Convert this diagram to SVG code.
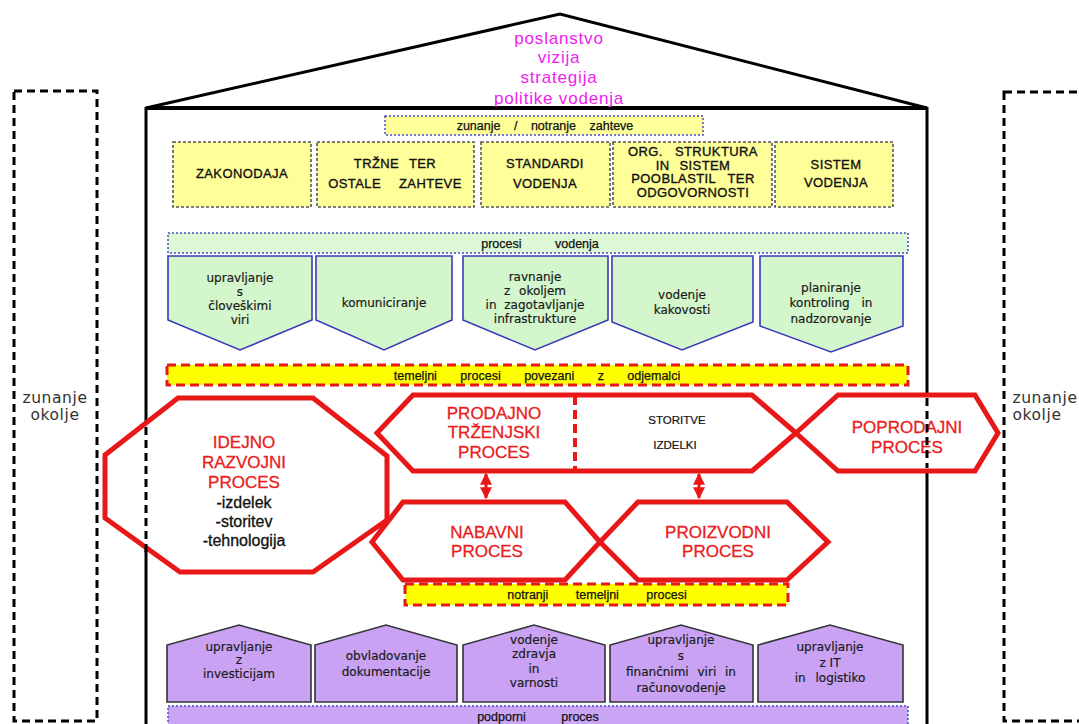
<svg xmlns="http://www.w3.org/2000/svg" width="1079" height="724" viewBox="0 0 1079 724">
  <style>
    .frame{fill:none;stroke:#000;stroke-width:3;stroke-linejoin:miter}
    .wall{fill:none;stroke:#000;stroke-width:3}
    .wallDash{fill:none;stroke:#000;stroke-width:3;stroke-dasharray:8 5}
    .ext{fill:none;stroke:#000;stroke-width:3;stroke-dasharray:8 5}
    .req{fill:#ffff99;stroke:#555;stroke-width:1.6;stroke-dasharray:3 2}
    .hdrY{fill:#ffff99;stroke:#4848c8;stroke-width:1.5;stroke-dasharray:2 2}
    .hdrG{fill:#dcf8d6;stroke:#4848c8;stroke-width:1.5;stroke-dasharray:2 2}
    .hdrP{fill:#cca6f6;stroke:#4848c8;stroke-width:1.5;stroke-dasharray:2 2}
    .mgmt{fill:#d4f6cc;stroke:#3a3ab8;stroke-width:1.6;stroke-linejoin:miter}
    .sup{fill:#c9a2f4;stroke:#333;stroke-width:1.6;stroke-linejoin:miter}
    .core{fill:#fff;stroke:#e81818;stroke-width:5;stroke-linejoin:miter}
    .band{fill:#ffff00;stroke:#e81818;stroke-width:3;stroke-dasharray:9 5}
    .split{fill:none;stroke:#e81818;stroke-width:4;stroke-dasharray:9 5}
    .link{fill:none;stroke:#e81818;stroke-width:3}
    text{font-family:"Liberation Sans",Arial,sans-serif;text-anchor:middle}
    .vis{font-size:17px;fill:#f020f0;letter-spacing:0.8px}
    .tr{font-size:13px;fill:#111;stroke:#111;stroke-width:0.35px;letter-spacing:0.4px}
    .tb{font-size:12.5px;fill:#111;stroke:#111;stroke-width:0.25px}
    .tg{font-family:"DejaVu Sans",Verdana,sans-serif;font-size:12px;fill:#1a1a1a;stroke:#1a1a1a;stroke-width:0.2px}
    .tred{font-size:17px;fill:#e82020;stroke:#e82020;stroke-width:0.3px}
    .tblk{font-size:16px;fill:#111;stroke:#111;stroke-width:0.3px}
    .tsm{font-size:11.5px;fill:#111;stroke:#111;stroke-width:0.2px}
    .tout{font-family:"DejaVu Sans",Verdana,sans-serif;font-size:15.5px;fill:#333;letter-spacing:0.6px}
  </style>
  <defs>
    <marker id="head" viewBox="0 0 10 10" refX="9" refY="5" markerWidth="4" markerHeight="4" orient="auto-start-reverse" markerUnits="strokeWidth">
      <path d="M0 0 L10 5 L0 10 Z" fill="#e81818"/>
    </marker>
  </defs>

  <!-- external environment columns -->
  <g id="ext-left">
    <rect class="ext" x="14" y="91" width="83" height="630"/>
    <text class="tout" x="55" y="403">zunanje</text>
    <text class="tout" x="55" y="420">okolje</text>
  </g>
  <g id="ext-right">
    <rect class="ext" x="1004" y="92" width="90" height="629"/>
    <text class="tout" x="1045" y="403">zunanje</text>
    <text class="tout" x="1037" y="420">okolje</text>
  </g>

  <!-- house frame -->
  <g id="house">
    <polyline class="frame" points="146,108 560,14 927,108"/>
    <line x1="146" y1="108" x2="927" y2="108" stroke="#000" stroke-width="4"/>
    <line class="wall" x1="146" y1="107" x2="146" y2="724"/>
    <line class="wall" x1="927" y1="107" x2="927" y2="724"/>
    <text class="vis" x="559" y="44">poslanstvo</text>
    <text class="vis" x="559" y="63">vizija</text>
    <text class="vis" x="559" y="83">strategija</text>
    <text class="vis" x="559" y="104">politike vodenja</text>
  </g>

  <!-- requirements -->
  <g id="requirements-header">
    <rect class="hdrY" x="385" y="116" width="318" height="19"/>
    <text class="tb" x="545" y="130" word-spacing="10">zunanje / notranje zahteve</text>
  </g>
  <g id="req-zakonodaja">
    <rect class="req" x="173" y="142" width="138" height="65"/>
    <text class="tr" x="242" y="178">ZAKONODAJA</text>
  </g>
  <g id="req-trzne">
    <rect class="req" x="317" y="142" width="157" height="65"/>
    <text class="tr" x="395" y="168" word-spacing="6">TRŽNE TER</text>
    <text class="tr" x="395" y="188" word-spacing="14">OSTALE ZAHTEVE</text>
  </g>
  <g id="req-standardi">
    <rect class="req" x="481" y="142" width="129" height="65"/>
    <text class="tr" x="545" y="168">STANDARDI</text>
    <text class="tr" x="545" y="188">VODENJA</text>
  </g>
  <g id="req-org">
    <rect class="req" x="613" y="142" width="159" height="65"/>
    <text class="tr" x="693" y="156" word-spacing="8">ORG. STRUKTURA</text>
    <text class="tr" x="693" y="169.5" word-spacing="6">IN SISTEM</text>
    <text class="tr" x="693" y="183" word-spacing="8">POOBLASTIL TER</text>
    <text class="tr" x="693" y="197">ODGOVORNOSTI</text>
  </g>
  <g id="req-sistem">
    <rect class="req" x="775" y="142" width="118" height="65"/>
    <text class="tr" x="836" y="169">SISTEM</text>
    <text class="tr" x="836" y="187">VODENJA</text>
  </g>

  <!-- management processes -->
  <g id="mgmt-header">
    <rect class="hdrG" x="168" y="233" width="740" height="20"/>
    <text class="tb" x="540" y="248" word-spacing="30">procesi vodenja</text>
  </g>
  <g id="mgmt-1">
    <path class="mgmt" d="M168 256 H312 V320 L240 350 L168 320 Z"/>
    <text class="tg" x="240" y="282">upravljanje</text>
    <text class="tg" x="240" y="296">s</text>
    <text class="tg" x="240" y="310">človeškimi</text>
    <text class="tg" x="240" y="324">viri</text>
  </g>
  <g id="mgmt-2">
    <path class="mgmt" d="M316 256 H452 V320 L384 350 L316 320 Z"/>
    <text class="tg" x="384" y="307">komuniciranje</text>
  </g>
  <g id="mgmt-3">
    <path class="mgmt" d="M463 256 H608 V320 L535 350 L463 320 Z"/>
    <text class="tg" x="535" y="281">ravnanje</text>
    <text class="tg" x="535" y="295" word-spacing="5">z okoljem</text>
    <text class="tg" x="535" y="309" word-spacing="4">in zagotavljanje</text>
    <text class="tg" x="535" y="323">infrastrukture</text>
  </g>
  <g id="mgmt-4">
    <path class="mgmt" d="M612 256 H753 V322 L682 350 L612 322 Z"/>
    <text class="tg" x="682" y="299">vodenje</text>
    <text class="tg" x="682" y="314">kakovosti</text>
  </g>
  <g id="mgmt-5">
    <path class="mgmt" d="M760 256 H903 V326 L831 352 L760 326 Z"/>
    <text class="tg" x="831" y="292">planiranje</text>
    <text class="tg" x="831" y="307" word-spacing="8">kontroling in</text>
    <text class="tg" x="831" y="323">nadzorovanje</text>
  </g>

  <!-- customer-facing core processes -->
  <g id="core-header">
    <rect class="band" x="167" y="365" width="741" height="20"/>
    <text class="tb" x="537" y="380" word-spacing="20">temeljni procesi povezani z odjemalci</text>
  </g>
  <g id="core-idejno">
    <polygon class="core" points="178,398 313,398 387,456 387,520 313,572 180,572 105,518 105,455"/>
    <text class="tred" x="244" y="448">IDEJNO</text>
    <text class="tred" x="244" y="468">RAZVOJNI</text>
    <text class="tred" x="244" y="488">PROCES</text>
    <text class="tblk" x="244" y="508">-izdelek</text>
    <text class="tblk" x="244" y="527">-storitev</text>
    <text class="tblk" x="244" y="546">-tehnologija</text>
  </g>
  <g id="core-prodajno">
    <polygon class="core" points="377,433 413,395 752,395 796,433 752,471 413,471"/>
    <line class="split" x1="575" y1="396" x2="575" y2="470"/>
    <text class="tred" x="494" y="419">PRODAJNO</text>
    <text class="tred" x="494" y="438">TRŽENJSKI</text>
    <text class="tred" x="494" y="458">PROCES</text>
    <text class="tsm" x="677" y="424">STORITVE</text>
    <text class="tsm" x="675" y="449">IZDELKI</text>
  </g>
  <g id="core-poprodajni">
    <polygon class="core" points="796,433 838,395 975,395 998,433 975,471 838,471"/>
    <text class="tred" x="907" y="433">POPRODAJNI</text>
    <text class="tred" x="907" y="453">PROCES</text>
  </g>
  <g id="core-nabavni">
    <polygon class="core" points="372,542 403,502 565,502 600,542 565,580 403,580"/>
    <text class="tred" x="487" y="538">NABAVNI</text>
    <text class="tred" x="487" y="557">PROCES</text>
  </g>
  <g id="core-proizvodni">
    <polygon class="core" points="600,542 638,502 787,502 828,542 787,580 638,580"/>
    <text class="tred" x="718" y="538">PROIZVODNI</text>
    <text class="tred" x="718" y="557">PROCES</text>
  </g>

  <!-- walls seen through the process shapes -->
  <g id="house-walls">
    <line class="wallDash" x1="146" y1="427" x2="146" y2="552"/>
    <line class="wallDash" x1="927" y1="398" x2="927" y2="468"/>
  </g>

  <!-- connectors -->
  <g id="connectors">
    <line class="link" x1="486" y1="474" x2="486" y2="498" marker-start="url(#head)" marker-end="url(#head)"/>
    <line class="link" x1="699" y1="474" x2="699" y2="498" marker-start="url(#head)" marker-end="url(#head)"/>
  </g>

  <g id="internal-header">
    <rect class="band" x="405" y="584" width="383" height="21"/>
    <text class="tb" x="597" y="599" word-spacing="24">notranji temeljni procesi</text>
  </g>

  <!-- support processes -->
  <g id="sup-1">
    <path class="sup" d="M167 702 V645 L239 625 L311 645 V702 Z"/>
    <text class="tg" x="239" y="651">upravljanje</text>
    <text class="tg" x="239" y="664">z</text>
    <text class="tg" x="239" y="678">investicijam</text>
  </g>
  <g id="sup-2">
    <path class="sup" d="M315 702 V645 L386 625 L457 645 V702 Z"/>
    <text class="tg" x="386" y="660">obvladovanje</text>
    <text class="tg" x="386" y="676">dokumentacije</text>
  </g>
  <g id="sup-3">
    <path class="sup" d="M463 702 V645 L534 625 L605 645 V702 Z"/>
    <text class="tg" x="534" y="644">vodenje</text>
    <text class="tg" x="534" y="658">zdravja</text>
    <text class="tg" x="534" y="673">in</text>
    <text class="tg" x="534" y="687">varnosti</text>
  </g>
  <g id="sup-4">
    <path class="sup" d="M610 702 V645 L681 625 L753 645 V702 Z"/>
    <text class="tg" x="681" y="644">upravljanje</text>
    <text class="tg" x="681" y="660">s</text>
    <text class="tg" x="681" y="676" word-spacing="5">finančnimi viri in</text>
    <text class="tg" x="681" y="692">računovodenje</text>
  </g>
  <g id="sup-5">
    <path class="sup" d="M758 702 V645 L830 625 L903 645 V702 Z"/>
    <text class="tg" x="830" y="651">upravljanje</text>
    <text class="tg" x="830" y="667">z IT</text>
    <text class="tg" x="830" y="682" word-spacing="6">in logistiko</text>
  </g>
  <g id="sup-header">
    <rect class="hdrP" x="168" y="706" width="740" height="24"/>
    <text class="tb" x="538" y="721" word-spacing="32">podporni proces</text>
  </g>
</svg>
